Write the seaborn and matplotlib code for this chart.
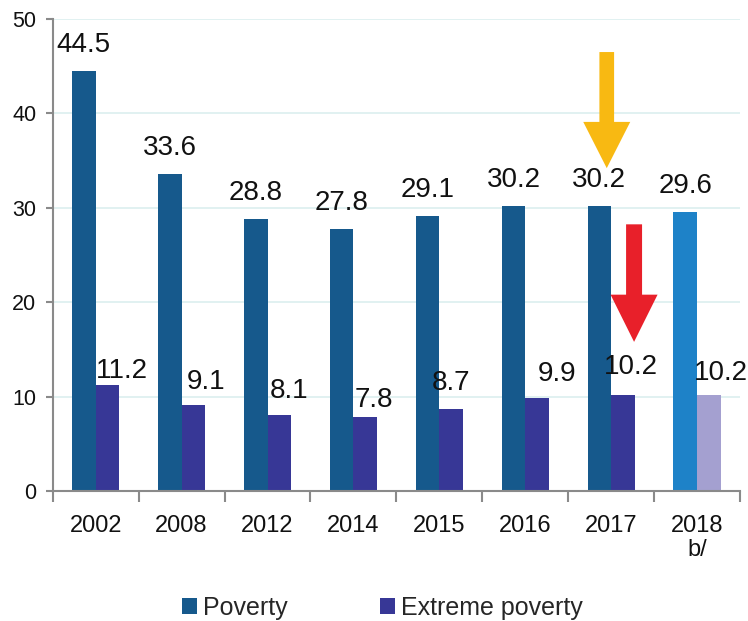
import matplotlib
matplotlib.use("Agg")
import matplotlib.pyplot as plt
from matplotlib.patches import FancyArrow, Patch
import seaborn as sns
import pandas as pd

# --- data ---
years = ["2002", "2008", "2012", "2014", "2015", "2016", "2017", "2018\nb/"]
poverty = [44.5, 33.6, 28.8, 27.8, 29.1, 30.2, 30.2, 29.6]
extreme_poverty = [11.2, 9.1, 8.1, 7.8, 8.7, 9.9, 10.2, 10.2]
series_names = ["Poverty", "Extreme poverty"]

# --- styling ---
POV_COLOR = "#16598c"
EXT_COLOR = "#373796"
POV_LAST = "#1e82c8"
EXT_LAST = "#a4a0d0"
GRID_COLOR = "#dcefef"
SPINE_COLOR = "#8a8a8a"

# label nudges in pixels (dx, dy above bar top)
pov_label_dy = 26
ext_label_dx = [14, 13, 10, 9, 0, 20, 8, 12]
ext_label_dy = [14, 23, 24, 17, 26, 24, 28, 22]

sns.set_theme(style="white")
plt.rcParams["font.family"] = ["Liberation Sans", "DejaVu Sans"]

df = pd.DataFrame({
    "year": years * 2,
    "value": poverty + extreme_poverty,
    "series": [series_names[0]] * len(years) + [series_names[1]] * len(years),
})

fig = plt.figure(figsize=(7.48, 6.21), dpi=100)
ax = fig.add_axes([0.0705, 0.2093, 0.9188, 0.7601])

sns.barplot(data=df, x="year", y="value", hue="series", order=years,
            hue_order=series_names, palette=[POV_COLOR, EXT_COLOR],
            width=0.55, gap=0, saturation=1, legend=False, ax=ax,
            linewidth=0, errorbar=None)

n = len(years)
pov_bars = ax.patches[:n]
ext_bars = ax.patches[n:2 * n]
pov_bars[-1].set_facecolor(POV_LAST)
ext_bars[-1].set_facecolor(EXT_LAST)

ax.set_xlim(-0.5, n - 0.5)
ax.set_ylim(0, 50)
ax.set_yticks(range(0, 51, 10))
ax.set_xlabel("")
ax.set_ylabel("")

# grid and spines
ax.yaxis.grid(True, color=GRID_COLOR, linewidth=1.2)
ax.set_axisbelow(True)
for side in ["top", "right"]:
    ax.spines[side].set_visible(False)
for side in ["left", "bottom"]:
    ax.spines[side].set_color(SPINE_COLOR)
    ax.spines[side].set_linewidth(1.5)

# category ticks: labels at centres, tick marks at group boundaries
ax.set_xticks(range(n))
ax.set_xticklabels(years, fontsize=17, color="#111111", linespacing=1.15)
ax.set_xticks([i - 0.5 for i in range(n + 1)], minor=True)
ax.tick_params(axis="x", which="major", length=0, pad=17)
ax.tick_params(axis="x", which="minor", length=8, width=1.5,
               color=SPINE_COLOR, direction="out", bottom=True)
ax.tick_params(axis="y", length=5, width=1.5, color=SPINE_COLOR,
               direction="out", left=True, labelsize=15.5,
               labelcolor="#111111", pad=6.8)

# value labels
px2pt = 72 / fig.dpi
for bar, val in zip(pov_bars, poverty):
    ax.annotate(f"{val:.1f}", (bar.get_x() + bar.get_width() / 2, val),
                xytext=(0, pov_label_dy * px2pt), textcoords="offset points",
                ha="center", va="center", fontsize=20, color="#111111")
for bar, val, dx, dy in zip(ext_bars, extreme_poverty, ext_label_dx, ext_label_dy):
    ax.annotate(f"{val:.1f}", (bar.get_x() + bar.get_width() / 2, val),
                xytext=(dx * px2pt, dy * px2pt), textcoords="offset points",
                ha="center", va="center", fontsize=20, color="#111111")

# highlight arrows over 2017
ax.add_patch(FancyArrow(5.949, 46.5, 0, -12.3, width=0.171, head_width=0.547,
                        head_length=4.9, length_includes_head=True,
                        color="#f8b912", linewidth=0, zorder=5))
ax.add_patch(FancyArrow(6.267, 28.25, 0, -12.45, width=0.186, head_width=0.547,
                        head_length=5.0, length_includes_head=True,
                        color="#e8202a", linewidth=0, zorder=5))

# legend
handles = [Patch(facecolor=POV_COLOR, edgecolor="none"),
           Patch(facecolor=EXT_COLOR, edgecolor="none")]
fig.legend(handles, series_names, loc="center",
           bbox_to_anchor=(382.5 / 748, 1 - 608 / 621), ncol=2,
           frameon=False, fontsize=18, handlelength=0.6, handleheight=0.6,
           handletextpad=0.25, columnspacing=3.7, borderpad=0)

fig.savefig("out.png", dpi=100, facecolor="white")
